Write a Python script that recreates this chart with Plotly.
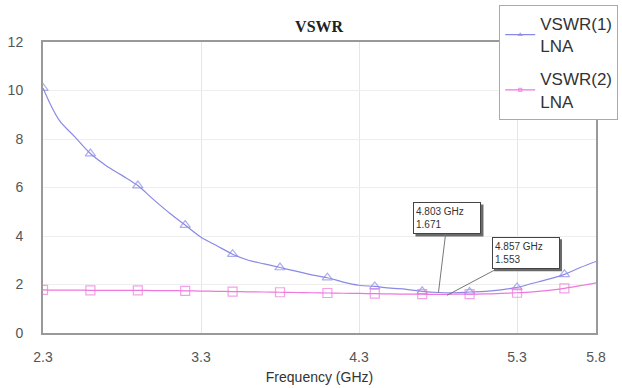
import plotly.graph_objects as go

freq = [2.3, 2.4, 2.5, 2.6, 2.7, 2.8, 2.9, 3.0, 3.1, 3.2, 3.3, 3.4, 3.5, 3.6, 3.7, 3.8, 3.9, 4.0,
        4.1, 4.2, 4.3, 4.4, 4.5, 4.6, 4.7, 4.8, 4.9, 5.0, 5.1, 5.2, 5.3, 5.4, 5.5, 5.6, 5.7, 5.8]
vswr1 = [10.1, 8.8, 8.1, 7.4, 6.9, 6.5, 6.08, 5.5, 4.95, 4.45, 3.95, 3.6, 3.25, 3.0, 2.85, 2.7, 2.55, 2.4,
         2.28, 2.1, 1.97, 1.92, 1.85, 1.8, 1.72, 1.67, 1.66, 1.69, 1.72, 1.78, 1.88, 2.05, 2.22, 2.42, 2.7, 2.95]
vswr2 = [1.78, 1.77, 1.77, 1.76, 1.76, 1.76, 1.76, 1.75, 1.75, 1.74, 1.73, 1.72, 1.71, 1.7, 1.69, 1.68, 1.67, 1.66,
         1.65, 1.64, 1.63, 1.62, 1.61, 1.6, 1.6, 1.59, 1.6, 1.6, 1.61, 1.63, 1.66, 1.7, 1.76, 1.84, 1.95, 2.07]
marker_every = 3
mk_freq = [4.803, 4.857]
mk_val = [1.671, 1.553]

x_ticks = [2.3, 3.3, 4.3, 5.3, 5.8]
y_ticks = [0, 2, 4, 6, 8, 10, 12]

sizes = [9 if i % marker_every == 0 else 0 for i in range(len(freq))]

c1 = "#8a8ae6"
c2 = "#ee77dd"

fig = go.Figure()
fig.add_trace(go.Scatter(
    x=freq, y=vswr1, mode="lines+markers", name="VSWR(1)<br>LNA", legendgroup="a",
    line=dict(color=c1, width=1.2, shape="spline"),
    marker=dict(symbol="triangle-up-open", size=sizes, color=c1, line=dict(width=1.2, color=c1)),
))
fig.add_trace(go.Scatter(
    x=freq, y=vswr2, mode="lines+markers", name="VSWR(2)<br>LNA", legendgroup="b",
    line=dict(color=c2, width=1.2, shape="spline"),
    marker=dict(symbol="square-open", size=sizes, color=c2, line=dict(width=1.2, color=c2)),
))

box_w, box_h, pad = 62, 26, 2
half_w = box_w / 2 + pad + 1
half_h = box_h / 2 + pad + 1
offsets = [(9, -74), (79, -42)]
for f, v, (ax, ay) in zip(mk_freq, mk_val, offsets):
    # drop shadow behind the callout box (pixel-sized, anchored at the marked point)
    fig.add_shape(
        type="rect", xref="x", yref="y", xsizemode="pixel", ysizemode="pixel",
        xanchor=f, yanchor=v,
        x0=ax - half_w + 2, x1=ax + half_w + 2,
        y0=-ay - half_h - 2, y1=-ay + half_h - 2,
        fillcolor="#6a6a6a", line=dict(width=0), layer="above",
    )
    fig.add_annotation(
        x=f, y=v, xref="x", yref="y", text=f"{f:.3f} GHz<br>{v:.3f}", align="left",
        width=box_w, height=box_h, valign="middle",
        showarrow=True, arrowhead=0, arrowwidth=1, arrowcolor="#777777",
        ax=ax, ay=ay, font=dict(family="Liberation Sans", size=10, color="#333333"),
        bgcolor="white", bordercolor="#444444", borderwidth=1, borderpad=pad,
    )

fig.update_layout(
    width=622, height=388,
    margin=dict(l=43, r=26, t=42, b=55, autoexpand=False),
    paper_bgcolor="white", plot_bgcolor="white",
    title=dict(text="<b>VSWR</b>", x=0.513, xanchor="center", y=0.933, yanchor="middle",
               font=dict(family="Liberation Serif", size=16, color="#222222")),
    showlegend=True,
    legend=dict(x=0.825, y=1.127, xanchor="left", yanchor="top",
                bgcolor="white", bordercolor="#aaaaaa", borderwidth=1,
                font=dict(family="Liberation Sans", size=17, color="#333333"),
                itemwidth=30, tracegroupgap=8),
)
fig.update_xaxes(range=[2.3, 5.8], tickvals=x_ticks, ticktext=[str(t) for t in x_ticks],
                 showgrid=True, gridcolor="#e6e6e6", gridwidth=1,
                 showline=True, linecolor="#999999", linewidth=2, mirror=True,
                 ticks="", ticklabelstandoff=10, automargin=False,
                 tickfont=dict(family="Liberation Sans", size=14, color="#555555"),
                 title=dict(text="Frequency (GHz)", font=dict(family="Liberation Sans", size=14, color="#333333"), standoff=8),
                 zeroline=False)
fig.update_yaxes(range=[0, 12], tickvals=y_ticks,
                 showgrid=True, gridcolor="#eeeeee", gridwidth=1,
                 showline=True, linecolor="#999999", linewidth=2, mirror=True,
                 ticks="", ticklabelstandoff=15, automargin=False,
                 tickfont=dict(family="Liberation Sans", size=14, color="#555555"),
                 zeroline=False)

fig.write_html("out.html")
